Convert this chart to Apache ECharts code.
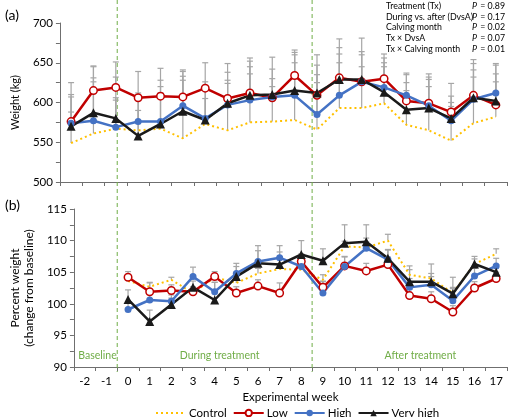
<!DOCTYPE html>
<html><head><meta charset="utf-8">
<script src="https://cdn.jsdelivr.net/npm/echarts@6/dist/echarts.min.js"></script>
<style>html,body{margin:0;padding:0;background:#fff}#c{width:510px;height:417px}</style>
</head><body><div id="c"></div>
<script>
const weeks = ['-2','-1','0','1','2','3','4','5','6','7','8','9','10','11','12','13','14','15','16','17'];
const seriesNames = ['Control','Low','High','Very high'];

// Panel (a): body weight, kg
const wControl  = [549,561,567,565,567,555,573,565,575,576,578,566,593,593,599,572,565,552,574,582];
const wLow      = [576,615,619,606,608,607,618,605,612,606,634,609,631,626,630,602,599,588,609,597];
const wHigh     = [574,577,569,576,576,596,580,597,603,607,609,585,609,626,619,609,596,577,604,612];
const wVeryHigh = [570,587,580,558,573,589,578,599,609,610,615,612,629,629,613,591,593,580,606,602];
// upper error bars (kg)
const wErrControl  = [39,65,36,40,45,73,32,59,61,44,72,59,57,52,46,43,55,43,58,44];
const wErrLow      = [49,31,32,33,35,34,32,44,44,36,32,38,49,38,31,33,37,36,45,39];
const wErrHigh     = [36,54,37,36,52,43,46,31,42,23,51,50,52,34,37,28,36,23,37,37];
const wErrVeryHigh = [37,58,52,32,47,44,42,39,43,47,48,48,40,52,37,34,36,28,43,45];

// Panel (b): percent of baseline weight (weeks 0..17)
const pControl  = [null,null,103.6,102.7,103.8,101.7,104.2,103.3,104.8,105.5,105.4,103.8,109.1,108.9,110.0,104.6,104.0,101.7,106.3,107.9];
const pLow      = [null,null,104.2,101.9,102.1,101.9,104.3,101.7,102.8,101.7,106.7,102.6,106.0,105.2,106.2,101.3,100.8,98.7,102.5,104.0];
const pHigh     = [null,null,99.1,100.6,100.4,104.3,101.9,104.8,106.7,107.3,105.9,101.7,105.9,108.8,107.0,102.6,103.0,100.5,104.4,106.0];
const pVeryHigh = [null,null,100.7,97.2,99.9,102.6,100.6,104.3,106.4,106.2,107.8,106.8,109.6,109.8,107.2,103.5,103.5,101.6,106.3,105.0];
const pErrControl  = [null,null,0.5,0.6,0.4,0.6,0.6,0.7,0.8,0.8,0.9,0.8,0.8,0.9,1.0,0.8,0.8,0.7,0.8,0.8];
const pErrLow      = [null,null,0.9,1.5,0.9,0.8,0.8,1.0,1.0,1.6,1.2,1.0,1.5,1.2,1.2,1.0,1.1,1.0,1.0,1.0];
const pErrHigh     = [null,null,1.0,1.2,1.0,1.5,1.5,1.6,1.7,1.9,1.5,1.8,1.5,1.6,1.5,1.4,1.3,2.1,1.2,1.2];
const pErrVeryHigh = [null,null,1.5,1.8,1.0,1.0,2.8,1.6,2.8,2.0,2.2,1.9,2.9,2.7,1.4,2.5,2.8,2.6,1.2,1.2];

const pvalLabels = ['Treatment (Tx)','During vs. after (DvsA)','Calving month','Tx \u00d7 DvsA','Tx \u00d7 Calving month'];
const pvalValues = ['0.89','0.17','0.02','0.07','0.01'];

const FONT = 'Lato';
const axisGray = '#6f6f6f';
const colors = {Control:'#FFC000', Low:'#C00000', High:'#4472C4', 'Very high':'#1a1a1a'};

function lineSeries(name, data, ai){
  const base = {name, type:'line', data, xAxisIndex:ai, yAxisIndex:ai, z:5, connectNulls:false, animation:false};
  if(name==='Control') return Object.assign(base,{symbol:'none', lineStyle:{color:colors.Control,width:2,type:[2,3]}, itemStyle:{color:colors.Control}});
  if(name==='Low') return Object.assign(base,{symbol:'circle', symbolSize:7.5, lineStyle:{color:colors.Low,width:2.5}, itemStyle:{color:'#fff',borderColor:colors.Low,borderWidth:1.5}});
  if(name==='High') return Object.assign(base,{symbol:'circle', symbolSize:7, lineStyle:{color:colors.High,width:2.5}, itemStyle:{color:colors.High}});
  return Object.assign(base,{symbol:'triangle', symbolSize:9, lineStyle:{color:colors['Very high'],width:2.5}, itemStyle:{color:colors['Very high']}});
}
function errSeries(means, errs, ai){
  const data = [];
  means.forEach((m,i)=>{ if(m!=null) data.push([i, m, m+errs[i]]); });
  return {type:'custom', xAxisIndex:ai, yAxisIndex:ai, z:2, silent:true, animation:false, data,
    renderItem(params, api){
      const p = api.coord([api.value(0), api.value(1)]);
      const t = api.coord([api.value(0), api.value(2)]);
      const st = {stroke:'#a6a6a6', lineWidth:1.2};
      return {type:'group', children:[
        {type:'line', shape:{x1:p[0],y1:p[1],x2:p[0],y2:t[1]}, style:st},
        {type:'line', shape:{x1:p[0]-3,y1:t[1],x2:p[0]+3,y2:t[1]}, style:st}
      ]};
    }};
}

const commonX = (ai, showLabels) => ({
  type:'category', data:weeks, gridIndex:ai, boundaryGap:true,
  axisLine:{lineStyle:{color:axisGray,width:1}},
  axisTick:{show:true, alignWithLabel:false, length:4, lineStyle:{color:axisGray}},
  axisLabel:{show:showLabels, color:'#000', fontFamily:FONT, fontSize:11.5, margin:8},
  name: showLabels ? 'Experimental week' : '', nameLocation:'middle', nameGap:24,
  nameTextStyle:{color:'#000', fontFamily:FONT, fontSize:11.5}
});
const commonY = (ai, min, max, interval, name, nameGap, nameSize) => ({
  type:'value', gridIndex:ai, min, max, interval,
  axisLine:{show:true, lineStyle:{color:axisGray}},
  axisTick:{show:true, length:4, lineStyle:{color:axisGray}},
  minorTick:{show:true, splitNumber:2, length:4, lineStyle:{color:axisGray}},
  splitLine:{show:false},
  axisLabel:{color:'#000', fontFamily:FONT, fontSize:11.5, margin:7},
  name, nameLocation:'middle', nameGap, nameRotate:90,
  nameTextStyle:{color:'#000', fontFamily:FONT, fontSize:nameSize, lineHeight:14}
});

const chart = echarts.init(document.getElementById('c'), null, {renderer:'canvas'});
const option = {
  animation:false,
  textStyle:{fontFamily:FONT},
  grid:[{left:55, right:3, top:23, height:159}, {left:55, right:3, top:209, height:158}],
  xAxis:[commonX(0,false), commonX(1,true)],
  yAxis:[commonY(0,500,700,50,'Weight (kg)',34,11), commonY(1,90,115,5,'Percent weight\n(change from baseline)',31,12)],
  legend:{data:[{name:'Control', itemStyle:{opacity:0}}, 'Low', 'High', 'Very high'], left:150, top:402, itemWidth:30, itemHeight:8, itemGap:6,
    textStyle:{color:'#000', fontFamily:FONT, fontSize:11.5, padding:[0,0,0,-2]}},
  series:[
    errSeries(wControl,wErrControl,0), errSeries(wLow,wErrLow,0), errSeries(wHigh,wErrHigh,0), errSeries(wVeryHigh,wErrVeryHigh,0),
    errSeries(pControl,pErrControl,1), errSeries(pLow,pErrLow,1), errSeries(pHigh,pErrHigh,1), errSeries(pVeryHigh,pErrVeryHigh,1),
    lineSeries('Control',wControl,0), lineSeries('Low',wLow,0), lineSeries('High',wHigh,0), lineSeries('Very high',wVeryHigh,0),
    lineSeries('Control',pControl,1), lineSeries('Low',pLow,1), lineSeries('High',pHigh,1), lineSeries('Very high',pVeryHigh,1)
  ]
};
chart.setOption(option);

// annotations positioned from the axis scale
const px = (cat) => chart.convertToPixel({xAxisIndex:1}, cat);
const half = (px('0') - px('-1'))/2;
const xBase = px('-1') + half;      // boundary between week -1 and 0
const xAfter = px('8') + half;      // boundary between week 8 and 9
const green = '#70AD47';
const g = [];
[xBase, xAfter].forEach(x=>{
  g.push({type:'line', shape:{x1:x,y1:0,x2:x,y2:372}, style:{stroke:green, lineWidth:1, lineDash:[4,3]}, z:1});
});
const yRegion = chart.convertToPixel({yAxisIndex:1}, 91.8);
g.push({type:'text', x:(px('-2')-half+xBase)/2+2, y:yRegion, style:{text:'Baseline', fill:green, font:'10.5px '+FONT, align:'center', verticalAlign:'middle'}});
g.push({type:'text', x:px('4')+5, y:yRegion, style:{text:'During treatment', fill:green, font:'10.5px '+FONT, align:'center', verticalAlign:'middle'}});
g.push({type:'text', x:px('13')+half, y:yRegion, style:{text:'After treatment', fill:green, font:'10.5px '+FONT, align:'center', verticalAlign:'middle'}});
g.push({type:'text', x:5, y:15, style:{text:'(a)', fill:'#000', font:'14px '+FONT, verticalAlign:'middle'}});
g.push({type:'text', x:5, y:205, style:{text:'(b)', fill:'#000', font:'14px '+FONT, verticalAlign:'middle'}});
pvalLabels.forEach((t,i)=>{
  const y = 6 + i*10.8;
  g.push({type:'text', x:386, y, style:{text:t, fill:'#000', font:'8.8px '+FONT, verticalAlign:'middle'}});
  g.push({type:'text', x:505, y, style:{rich:{p:{fontStyle:'italic', fontFamily:FONT, fontSize:8.8, fill:'#000'}, v:{fontFamily:FONT, fontSize:8.8, fill:'#000'}}, text:'{p|P} {v|= '+pvalValues[i]+'}', align:'right', verticalAlign:'middle'}});
});
chart.setOption({graphic:g});
</script>
</body></html>
